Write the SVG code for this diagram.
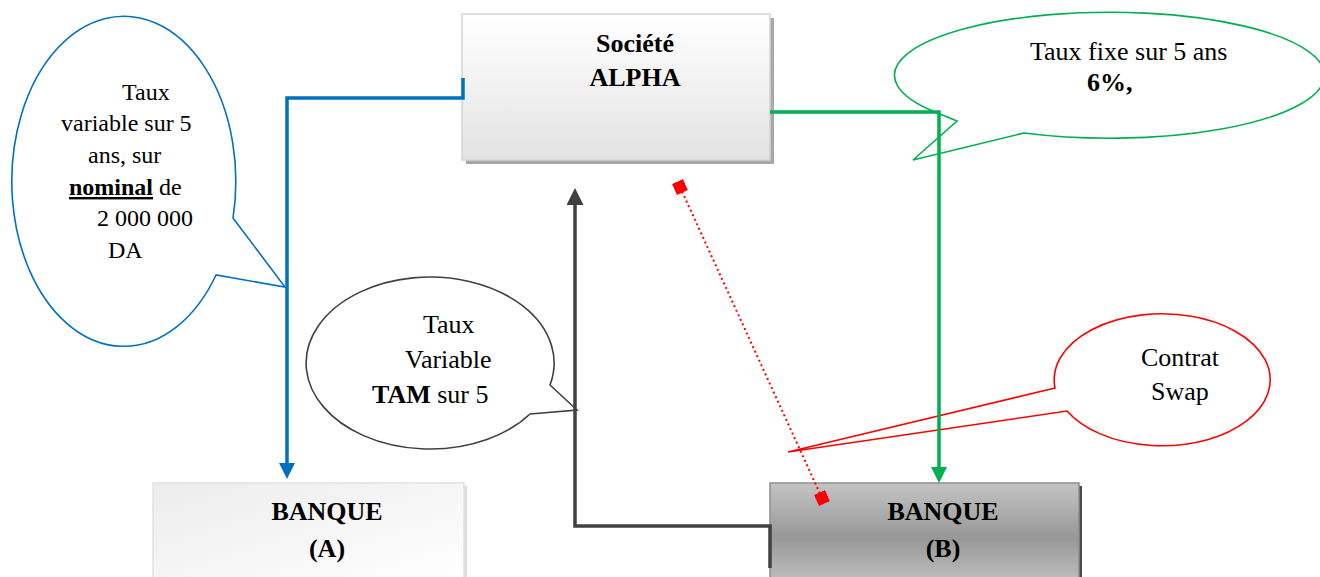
<svg xmlns="http://www.w3.org/2000/svg" width="1320" height="577" viewBox="0 0 1320 577">
  <style>
    text { font-family: "Liberation Serif", "Times New Roman", serif; fill: #000; }
    .b { font-weight: bold; }
    .lbl { font-size: 26px; font-weight: bold; text-anchor: middle; }
    .t24 { font-size: 24px; }
    .t26 { font-size: 26px; }
    .bubble { fill: #fff; stroke-width: 1.6; stroke-linejoin: miter; }
    .conn { fill: none; stroke-width: 3.5; }
  </style>
  <defs>
    <linearGradient id="gAlpha" x1="0" y1="0" x2="0" y2="1">
      <stop offset="0" stop-color="#ffffff"/>
      <stop offset="1" stop-color="#e2e2e2"/>
    </linearGradient>
    <linearGradient id="gBankA" x1="0" y1="0" x2="1" y2="1">
      <stop offset="0" stop-color="#ececec"/>
      <stop offset="1" stop-color="#ffffff"/>
    </linearGradient>
    <linearGradient id="gBankB" x1="0" y1="0" x2="0" y2="1">
      <stop offset="0" stop-color="#c4c4c4"/>
      <stop offset="0.55" stop-color="#979797"/>
      <stop offset="1" stop-color="#c0c0c0"/>
    </linearGradient>
    <marker id="arrBlue" markerUnits="userSpaceOnUse" markerWidth="16" markerHeight="16" refX="2" refY="8" orient="auto">
      <path d="M0,0 L16,8 L0,16 z" fill="#0070c0"/>
    </marker>
    <marker id="arrGreen" markerUnits="userSpaceOnUse" markerWidth="16" markerHeight="16" refX="2" refY="8" orient="auto">
      <path d="M0,0 L16,8 L0,16 z" fill="#00b050"/>
    </marker>
    <marker id="arrDark" markerUnits="userSpaceOnUse" markerWidth="17" markerHeight="17" refX="2" refY="8.5" orient="auto">
      <path d="M0,0 L17,8.5 L0,17 z" fill="#404040"/>
    </marker>
    <marker id="diamond" markerUnits="userSpaceOnUse" markerWidth="13" markerHeight="13" refX="6" refY="6" orient="auto">
      <rect x="0" y="0" width="12" height="12" fill="#ff0000"/>
    </marker>
  </defs>

  <!-- Company box -->
  <g id="societe-alpha">
    <rect x="466" y="18" width="308" height="146" fill="#a8a8a8"/>
    <rect x="462" y="14" width="308" height="146" fill="url(#gAlpha)" stroke="#d4d4d4" stroke-width="1.5"/>
    <text class="lbl" x="635" y="52">Société</text>
    <text class="lbl" x="635" y="86">ALPHA</text>
  </g>

  <!-- Bank A -->
  <g id="banque-a">
    <rect x="156" y="486" width="311" height="100" fill="#dcdcdc"/>
    <rect x="153" y="483" width="311" height="100" fill="url(#gBankA)" stroke="#e2e2e2" stroke-width="1.5"/>
    <text class="lbl" x="327" y="520">BANQUE</text>
    <text class="lbl" x="327" y="557">(A)</text>
  </g>

  <!-- Bank B -->
  <g id="banque-b">
    <rect x="773" y="486" width="309" height="100" fill="#4a4a4a"/>
    <rect x="770" y="483" width="309" height="100" fill="url(#gBankB)" stroke="#8e8e8e" stroke-width="1.5"/>
    <text class="lbl" x="943" y="520">BANQUE</text>
    <text class="lbl" x="943" y="557">(B)</text>
  </g>

  <!-- Callout: variable rate paid to bank A -->
  <g id="bulle-nominal">
    <path class="bubble" stroke="#0070c0" d="M233,218 L285,287 L216,275 A112,165 0 1 1 233,218 Z"/>
    <text class="t24" x="122" y="100">Taux</text>
    <text class="t24" x="61" y="131">variable sur 5</text>
    <text class="t24" x="88" y="163">ans, sur</text>
    <text class="t24" x="69" y="195"><tspan class="b" text-decoration="underline">nominal</tspan> de</text>
    <text class="t24" x="97" y="226">2 000 000</text>
    <text class="t24" x="108" y="258">DA</text>
  </g>

  <!-- Callout: fixed rate -->
  <g id="bulle-fixe">
    <path class="bubble" stroke="#00b050" d="M935,112 L957,121 L913,160 L1024,133 A215,63 0 1 0 935,112 Z"/>
    <text class="t26" x="1030" y="60">Taux fixe sur 5 ans</text>
    <text class="t26 b" x="1087" y="91">6%,</text>
  </g>

  <!-- Callout: TAM variable rate -->
  <g id="bulle-tam">
    <path class="bubble" stroke="#404040" d="M550,385 L577,410 L530,414 A124,86 0 1 1 550,385 Z"/>
    <text class="t26" x="423" y="333">Taux</text>
    <text class="t26" x="405" y="368">Variable</text>
    <text class="t26" x="372" y="403"><tspan class="b">TAM</tspan> sur 5</text>
  </g>

  <!-- Callout: swap contract -->
  <g id="bulle-swap">
    <path class="bubble" stroke="#ff0000" d="M1055,388 L788,452 L1067,411 A108,66 0 1 0 1055,388 Z"/>
    <text class="t26" x="1141" y="366">Contrat</text>
    <text class="t26" x="1151" y="400">Swap</text>
  </g>

  <!-- Connectors -->
  <g id="connectors">
    <path class="conn" stroke="#0070c0" d="M463,78 V98 H287 V465" marker-end="url(#arrBlue)"/>
    <path class="conn" stroke="#00b050" d="M770,112 H939 V469" marker-end="url(#arrGreen)"/>
    <path class="conn" stroke="#404040" d="M770,568 V526 H575 V203" marker-end="url(#arrDark)"/>
    <path fill="none" stroke="#ff0000" stroke-width="2" stroke-dasharray="2 3" d="M680,187 L822,498" marker-start="url(#diamond)" marker-end="url(#diamond)"/>
  </g>
</svg>
